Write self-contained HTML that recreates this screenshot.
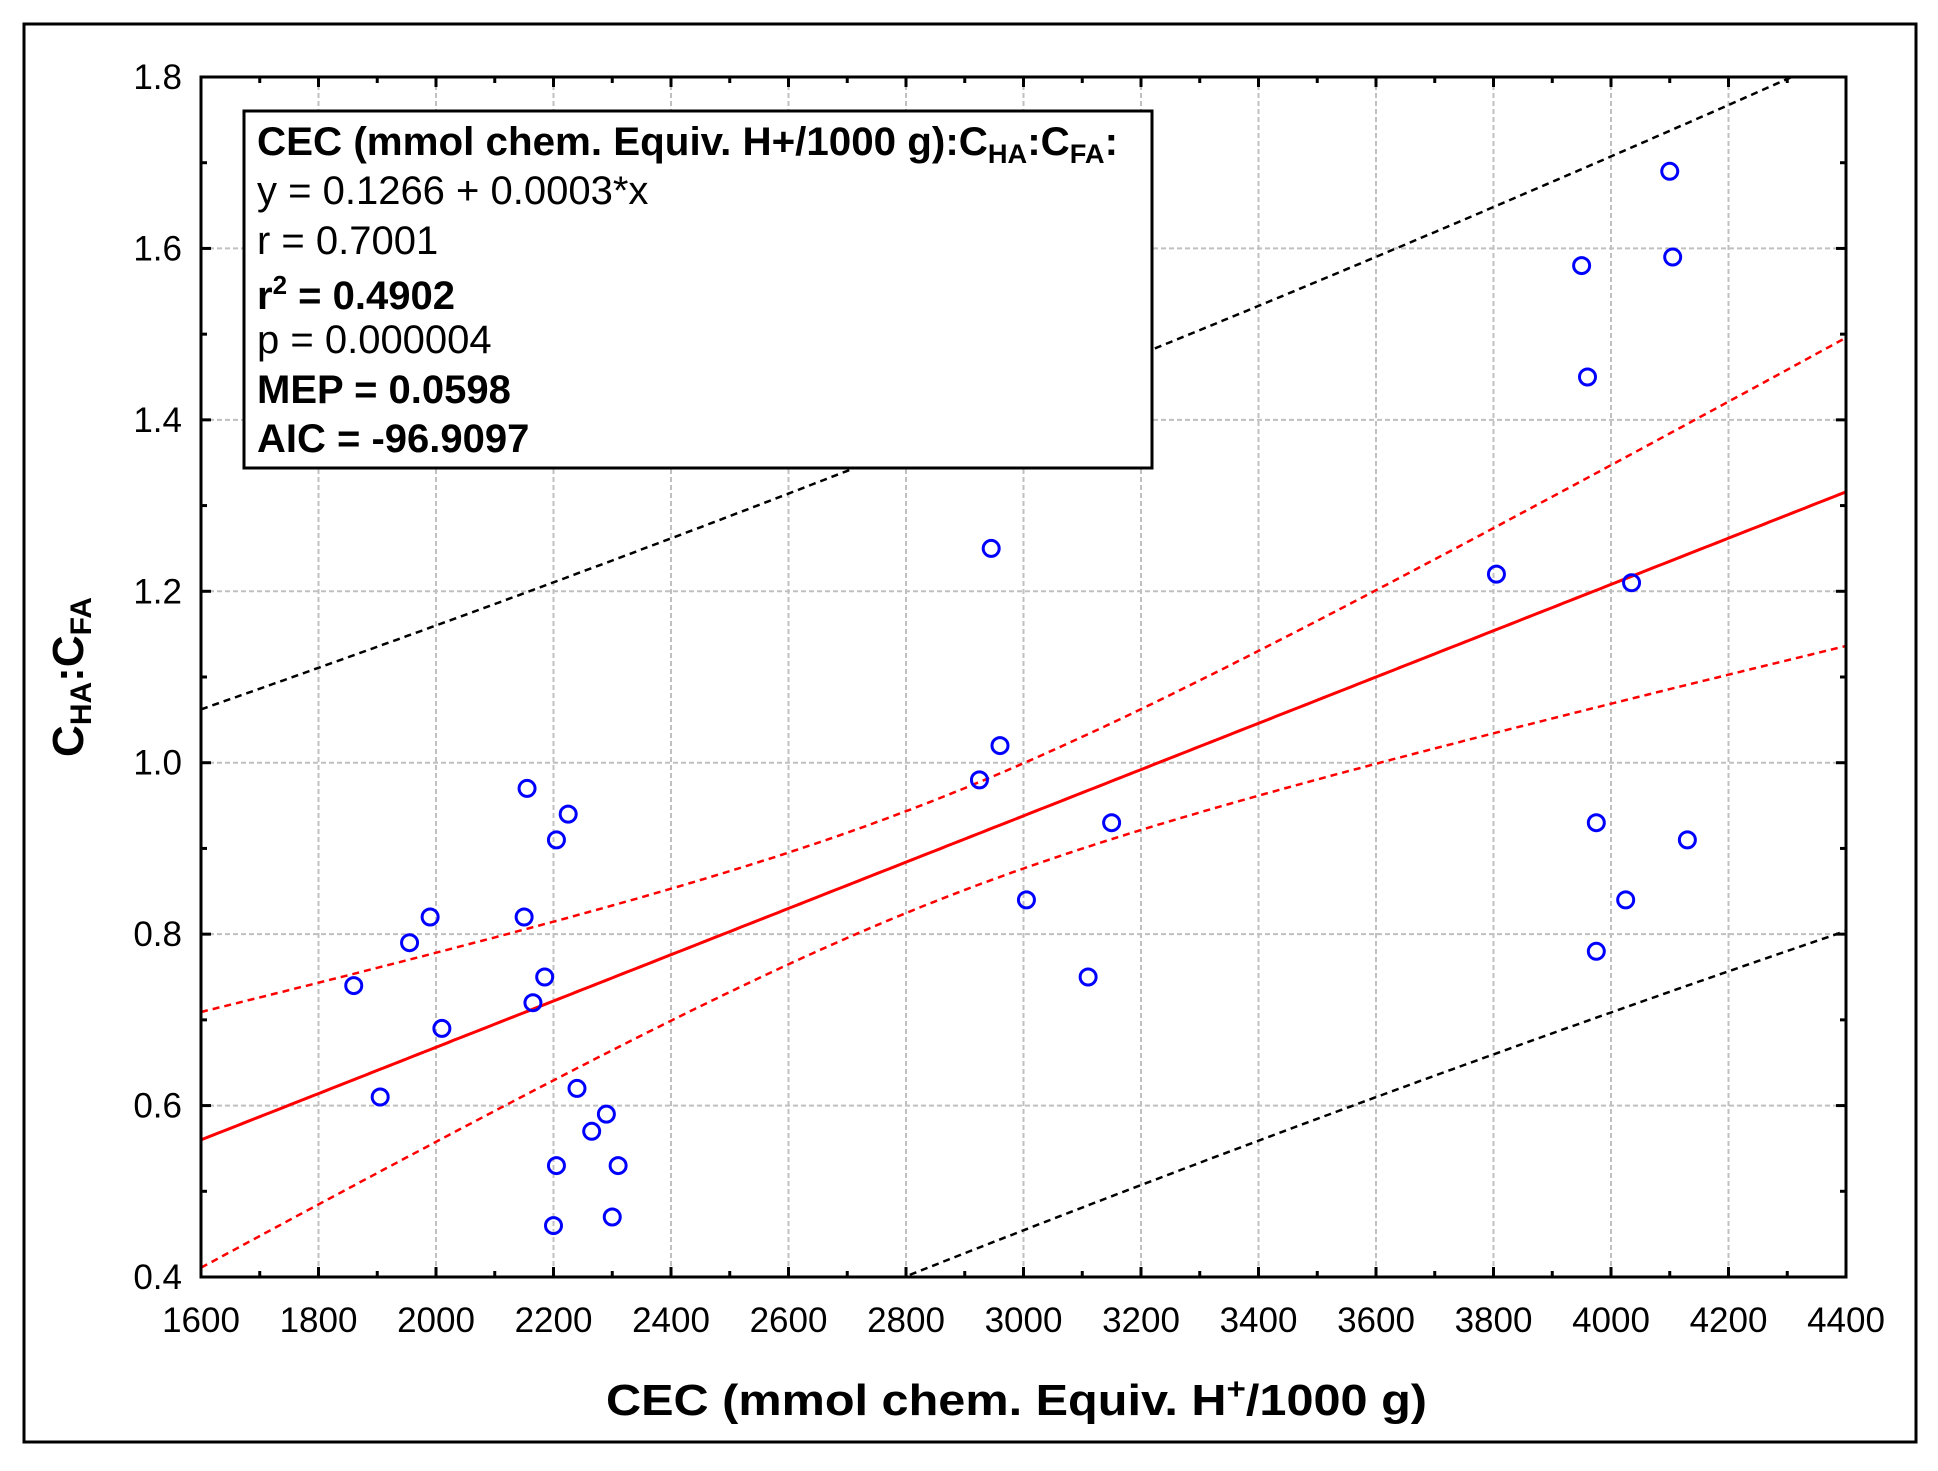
<!DOCTYPE html>
<html><head><meta charset="utf-8"><style>
html,body{margin:0;padding:0;background:#fff;width:1938px;height:1471px;overflow:hidden;}
svg{display:block;font-family:"Liberation Sans",Arial,sans-serif;}
</style></head><body>
<svg id="s" width="1938" height="1471" viewBox="0 0 1938 1471" xmlns="http://www.w3.org/2000/svg">
<rect x="0" y="0" width="1938" height="1471" fill="#fff"/>
<rect x="24" y="24" width="1892" height="1418" fill="none" stroke="#000" stroke-width="3"/>
<g id="grid"></g>
<g id="curves"></g>
<g id="pts"></g>
<rect x="201" y="77" width="1645" height="1200" fill="none" stroke="#000" stroke-width="3"/>
<g id="ticks"></g>
<rect x="244" y="111" width="908" height="357" fill="#fff" stroke="#000" stroke-width="3"/>
<g font-size="40" fill="#000">
<text x="257" y="155" font-weight="bold" textLength="861" lengthAdjust="spacingAndGlyphs">CEC (mmol chem. Equiv. H+/1000 g):C<tspan font-size="27" dy="8">HA</tspan><tspan dy="-8">:C</tspan><tspan font-size="27" dy="8">FA</tspan><tspan dy="-8">:</tspan></text>
<text x="257" y="204">y = 0.1266 + 0.0003*x</text>
<text x="257" y="254">r = 0.7001</text>
<text x="257" y="309" font-weight="bold">r<tspan font-size="26" dy="-15">2</tspan><tspan dy="15"> = 0.4902</tspan></text>
<text x="257" y="353">p = 0.000004</text>
<text x="257" y="403" font-weight="bold">MEP = 0.0598</text>
<text x="257" y="452" font-weight="bold">AIC = -96.9097</text>
</g>
<g id="labels" font-size="35" fill="#000"></g>
<text x="606" y="1415" font-size="44" font-weight="bold" textLength="821" lengthAdjust="spacingAndGlyphs">CEC (mmol chem. Equiv. H<tspan font-size="30" dy="-16">+</tspan><tspan dy="16">/1000 g)</tspan></text>
<text transform="translate(83,677) rotate(-90)" text-anchor="middle" font-size="44" font-weight="bold">C<tspan font-size="30" dy="8">HA</tspan><tspan dy="-8">:C</tspan><tspan font-size="30" dy="8">FA</tspan></text>
</svg>
<script>
var NS="http://www.w3.org/2000/svg";
function X(v){return 201+(v-1600)*0.5875;}
function Y(v){return 1277-(v-0.4)*857.14;}
function el(p,t,a){var e=document.createElementNS(NS,t);for(var k in a)e.setAttribute(k,a[k]);document.getElementById(p).appendChild(e);return e;}
for(var v=1800;v<=4200;v+=200){el("grid","line",{x1:X(v),x2:X(v),y1:77,y2:1277,stroke:"#c0c0c0","stroke-width":2,"stroke-dasharray":"5,3"});}
for(var i=1;i<7;i++){var y=Y(0.4+0.2*i);el("grid","line",{x1:201,x2:1846,y1:y,y2:y,stroke:"#c0c0c0","stroke-width":2,"stroke-dasharray":"5,3"});}
for(var v=1600;v<=4400;v+=100){var maj=(v%200==0),L=maj?10:6;el("ticks","line",{x1:X(v),x2:X(v),y1:1277,y2:1277-L,stroke:"#000","stroke-width":3});el("ticks","line",{x1:X(v),x2:X(v),y1:77,y2:77+L,stroke:"#000","stroke-width":3});
 if(maj){var t=el("labels","text",{x:X(v),y:1332,"text-anchor":"middle"});t.textContent=v;}}
for(var i=0;i<=14;i++){var val=0.4+0.1*i,y=Y(val),maj=(i%2==0),L=maj?10:6;el("ticks","line",{x1:201,x2:201+L,y1:y,y2:y,stroke:"#000","stroke-width":3});el("ticks","line",{x1:1846,x2:1846-L,y1:y,y2:y,stroke:"#000","stroke-width":3});
 if(maj){var t=el("labels","text",{x:182,y:y+12,"text-anchor":"end"});t.textContent=val.toFixed(1);}}
function fit(x){return 0.56+(x-1600)*0.000270;}
function ci(x){return Math.sqrt(0.0035+1.2e-8*(x-2850)*(x-2850));}
function pi(x){var c=ci(x);return Math.sqrt(0.23+c*c);}
function path(f){var d="";for(var x=1600;x<=4400;x+=10){d+=(d?"L":"M")+X(x).toFixed(1)+","+Y(f(x)).toFixed(1);}return d;}
el("curves","clipPath",{id:"cp"});
var cp=document.getElementById("cp");var r=document.createElementNS(NS,"rect");r.setAttribute("x",201);r.setAttribute("y",77);r.setAttribute("width",1645);r.setAttribute("height",1200);cp.appendChild(r);
var g=el("curves","g",{"clip-path":"url(#cp)"});g.id="cg";
el("cg","path",{d:path(function(x){return fit(x)+pi(x);}),fill:"none",stroke:"#000","stroke-width":2.5,"stroke-dasharray":"7,5"});
el("cg","path",{d:path(function(x){return fit(x)-pi(x);}),fill:"none",stroke:"#000","stroke-width":2.5,"stroke-dasharray":"7,5"});
el("cg","path",{d:path(function(x){return fit(x)+ci(x);}),fill:"none",stroke:"#f00","stroke-width":2.5,"stroke-dasharray":"7,5"});
el("cg","path",{d:path(function(x){return fit(x)-ci(x);}),fill:"none",stroke:"#f00","stroke-width":2.5,"stroke-dasharray":"7,5"});
el("cg","path",{d:path(fit),fill:"none",stroke:"#f00","stroke-width":3});
var P=[[1860,0.74],[1905,0.61],[1955,0.79],[1990,0.82],[2010,0.69],[2150,0.82],[2155,0.97],[2165,0.72],[2185,0.75],[2200,0.46],[2205,0.53],[2205,0.91],[2225,0.94],[2240,0.62],[2265,0.57],[2290,0.59],[2300,0.47],[2310,0.53],[2925,0.98],[2945,1.25],[2960,1.02],[3005,0.84],[3110,0.75],[3150,0.93],[3805,1.22],[3950,1.58],[3960,1.45],[3975,0.93],[3975,0.78],[4025,0.84],[4035,1.21],[4100,1.69],[4105,1.59],[4130,0.91]];
P.forEach(function(p){el("pts","circle",{cx:X(p[0]),cy:Y(p[1]),r:8,fill:"none",stroke:"#00f","stroke-width":3});});
</script>
</body></html>
